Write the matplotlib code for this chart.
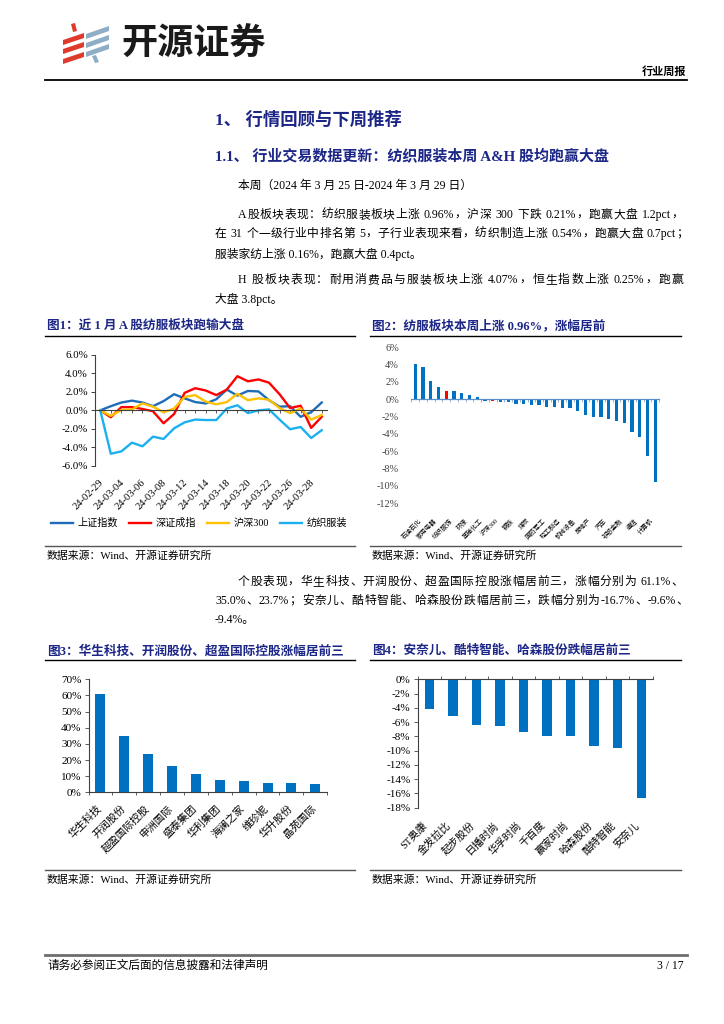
import matplotlib
matplotlib.use('Agg')
import matplotlib.pyplot as plt
from matplotlib.patches import Polygon
from matplotlib.lines import Line2D
from matplotlib.transforms import ScaledTranslation
import numpy as np

# ---------------- data ----------------
dates = ['24-02-29', '24-03-01', '24-03-04', '24-03-05', '24-03-06', '24-03-07',
         '24-03-08', '24-03-11', '24-03-12', '24-03-13', '24-03-14', '24-03-15',
         '24-03-18', '24-03-19', '24-03-20', '24-03-21', '24-03-22', '24-03-25',
         '24-03-26', '24-03-27', '24-03-28', '24-03-29']
series_names = ['上证指数', '深证成指', '沪深300', '纺织服装']
sh_index = [0, 0.45, 0.85, 1.05, 0.85, 0.45, 1.0, 1.75, 1.3, 0.9, 0.75, 1.2,
            2.25, 1.6, 2.1, 2.05, 1.1, 0.4, 0.45, -0.7, -0.2, 0.85]
sz_index = [0, -0.75, 0.35, 0.35, 0.15, -0.1, -1.4, -0.4, 1.9, 2.4, 2.15, 1.65,
            2.25, 3.7, 3.15, 3.35, 3.0, 1.75, 0.25, 0.5, -1.9, -0.7]
hs300 = [0, -0.6, 0.05, 0.1, 0.75, 0.4, -0.2, 0.2, 1.45, 1.65, 0.95, 0.65,
         0.9, 1.8, 1.1, 1.3, 1.15, 0.25, -0.3, 0.2, -1.0, -0.5]
textile = [0, -4.7, -4.45, -3.5, -3.9, -2.85, -3.1, -1.95, -1.3, -1.0, -1.05, -1.05,
           0.2, 0.55, -0.3, 0.0, 0.1, -1.0, -2.05, -1.8, -3.0, -2.15]

industry_labels = ['石油石化', '家用电器', '纺织服饰', '环保', '基础化工', '沪深300', '钢铁',
                   '煤炭', '国防军工', '轻工制造', '机械设备', '房地产', '汽车', '非银金融',
                   '通信', '计算机']
industry_values = [4.05, 3.7, 2.1, 1.4, 0.96, 0.9, 0.68, 0.55, 0.3, -0.2, -0.21, -0.35,
                   -0.35, -0.55, -0.6, -0.65, -0.7, -0.9, -0.93, -0.97, -1.0, -1.3,
                   -1.77, -2.0, -2.08, -2.3, -2.54, -2.77, -3.8, -4.4, -6.5, -9.5]
industry_highlight = ['纺织服饰', '沪深300']

up_stocks = ['华生科技', '开润股份', '超盈国际控股', '申洲国际', '盛泰集团', '华利集团',
             '海澜之家', '维珍妮', '华升股份', '晶苑国际']
up_values = [61.1, 35.0, 23.7, 16.3, 11.2, 7.6, 6.8, 5.8, 5.8, 5.0]

down_stocks = ['ST奥康', '金发拉比', '起步股份', '日播时尚', '华孚时尚', '千百度', '赢家时尚',
               '哈森股份', '酷特智能', '安奈儿']
down_values = [-4.2, -5.2, -6.4, -6.6, -7.4, -7.9, -8.0, -9.4, -9.6, -16.7]

# ---------------- setup ----------------
plt.rcParams['font.family'] = ['Liberation Serif', 'Noto Sans CJK SC']
plt.rcParams['axes.unicode_minus'] = False

W, H = 724, 1024
fig = plt.figure(figsize=(7.24, 10.24), dpi=100)
fig.patch.set_facecolor('white')
renderer = fig.canvas.get_renderer()

NAVY = '#1C2687'
BLUE = '#0070C0'


def fx(x):
    return x / W


def fy(y):
    return 1 - y / H


def ax_at(x0, y0, x1, y1):
    return fig.add_axes([fx(x0), fy(y1), (x1 - x0) / W, (y1 - y0) / H])


def txt(x, y, s, **kw):
    kw.setdefault('va', 'center')
    return fig.text(fx(x), fy(y), s, **kw)


def hline(x0, x1, y, color='black', lw=1.0):
    fig.add_artist(Line2D([fx(x0), fx(x1)], [fy(y), fy(y)], transform=fig.transFigure,
                          color=color, lw=lw))


def poly(pts, color):
    fig.add_artist(Polygon([(fx(a), fy(b)) for a, b in pts], closed=True,
                           transform=fig.transFigure, color=color, lw=0))


def measure(s, size):
    t = fig.text(0, 0, s, fontsize=size)
    w = t.get_window_extent(renderer=renderer).width
    t.remove()
    return w


def tokens_of(s):
    toks = []
    cur = ''
    for ch in s:
        if ord(ch) < 128 and ch != ' ':
            cur += ch
        else:
            if cur:
                toks.append(cur)
                cur = ''
            toks.append(ch)
    if cur:
        toks.append(cur)
    return toks


def justify(x0, x1, y, s, size, color='black'):
    toks = tokens_of(s)
    widths = []
    for t in toks:
        if t == ' ':
            widths.append(0.25 * size * 100 / 72)
        else:
            widths.append(measure(t, size))
    total = sum(widths)
    slack = (x1 - x0) - total
    gap = slack / max(len(toks) - 1, 1)
    x = x0
    for t, w in zip(toks, widths):
        if t != ' ':
            txt(x, y, t, fontsize=size, color=color, ha='left')
        x += w + gap


# ---------------- header ----------------
red = '#E03A2C'
gblue = '#8EADC6'
for y0 in [40, 49, 59]:
    poly([(63, y0), (84, y0 - 7), (84, y0 - 2), (63, y0 + 5)], red)
poly([(71, 24), (75, 23), (77, 31), (73, 32)], red)
for y0 in [34, 43, 52]:
    poly([(86, y0), (109, y0 - 8), (109, y0 - 3), (86, y0 + 5)], gblue)
poly([(92, 56), (96, 55), (99, 62), (95, 63)], gblue)
txt(121, 44, '开源证券', fontsize=26, fontweight='bold', family='Noto Sans CJK SC', color='#1a1a1a')
txt(686, 72, '行业周报', fontsize=8, fontweight='bold', ha='right')
hline(45, 687, 80, lw=1.3)

# ---------------- headings & text ----------------
txt(215, 120, '1、 行情回顾与下周推荐', fontsize=12.5, fontweight='bold', color=NAVY)
txt(215, 157, '1.1、 行业交易数据更新：纺织服装本周 A&H 股均跑赢大盘', fontsize=10.8,
    fontweight='bold', color=NAVY)
BS = 8.5
txt(238, 186, '本周（2024 年 3 月 25 日-2024 年 3 月 29 日）', fontsize=BS)
justify(238, 683, 215, 'A股板块表现：纺织服装板块上涨 0.96%，沪深 300 下跌 0.21%，跑赢大盘 1.2pct，', BS)
justify(215, 688, 234, '在 31 个一级行业中排名第 5，子行业表现来看，纺织制造上涨 0.54%，跑赢大盘 0.7pct；', BS)
txt(215, 254, '服装家纺上涨 0.16%，跑赢大盘 0.4pct。', fontsize=BS)
justify(238, 683, 280, 'H 股板块表现：耐用消费品与服装板块上涨 4.07%，恒生指数上涨 0.25%，跑赢', BS)
txt(215, 299, '大盘 3.8pct。', fontsize=BS)

justify(238, 683, 582, '个股表现，华生科技、开润股份、超盈国际控股涨幅居前三，涨幅分别为 61.1%、', BS)
justify(215, 688, 601, '35.0%、23.7%；安奈儿、酷特智能、哈森股份跌幅居前三，跌幅分别为-16.7%、-9.6%、', BS)
txt(215, 620, '-9.4%。', fontsize=BS)

# figure titles & rules
TS = 9.1
txt(47, 326, '图1：近 1 月 A 股纺服板块跑输大盘', fontsize=TS, fontweight='bold', color=NAVY)
txt(372, 326, '图2：纺服板块本周上涨 0.96%，涨幅居前', fontsize=TS, fontweight='bold', color=NAVY)
hline(45, 355, 336, lw=1.0)
hline(370, 681, 336, lw=1.0)
txt(47, 651, '图3：华生科技、开润股份、超盈国际控股涨幅居前三', fontsize=TS, fontweight='bold', color=NAVY)
txt(372, 651, '图4：安奈儿、酷特智能、哈森股份跌幅居前三', fontsize=TS, fontweight='bold', color=NAVY)
hline(45, 355, 660, lw=1.0)
hline(370, 681, 660, lw=1.0)

SRC = '数据来源：Wind、开源证券研究所'
hline(45, 355, 545.5, color='#555555', lw=1.0)
hline(370, 681, 545.5, color='#555555', lw=1.0)
txt(47, 556, SRC, fontsize=7.8)
txt(372, 556, SRC, fontsize=7.8)
hline(45, 355, 869.5, color='#555555', lw=1.0)
hline(370, 681, 869.5, color='#555555', lw=1.0)
txt(47, 880, SRC, fontsize=7.8)
txt(372, 880, SRC, fontsize=7.8)

# footer
hline(45, 687, 955, color='#6d6d6d', lw=2.0)
txt(47, 966, '请务必参阅正文后面的信息披露和法律声明', fontsize=8.4)
txt(684, 966, '3 / 17', fontsize=8.4, ha='right')


def shift_labels(labels, dx_px, dy_px=0):
    for lab in labels:
        lab.set_transform(lab.get_transform() + ScaledTranslation(dx_px / 100, -dy_px / 100,
                                                                  fig.dpi_scale_trans))


# ---------------- Fig 1 ----------------
ax1 = ax_at(95, 355, 327, 465.7)
xi = np.arange(len(dates))
colors1 = ['#1F6DB8', '#FF0000', '#FFC000', '#1CB0F0']
lines = []
for vals, c, nm in zip([sh_index, sz_index, hs300, textile], colors1, series_names):
    ln, = ax1.plot(xi, vals, color=c, lw=1.7, label=nm, solid_joinstyle='round')
    lines.append(ln)
ax1.set_xlim(-0.5, len(dates) - 0.5)
ax1.set_ylim(-6, 6)
ax1.set_yticks(np.arange(-6, 6.1, 2))
ax1.set_yticklabels(['%.1f%%' % v for v in np.arange(-6, 6.1, 2)])
ax1.tick_params(axis='y', length=3, width=0.7, labelsize=7.8, pad=2, color='#404040')
for sp in ['top', 'right']:
    ax1.spines[sp].set_visible(False)
ax1.spines['bottom'].set_position(('data', 0))
for sp in ['bottom', 'left']:
    ax1.spines[sp].set_color('#404040')
    ax1.spines[sp].set_linewidth(0.8)
ax1.set_xticks(xi)
ax1.tick_params(axis='x', length=2.5, width=0.6, labelbottom=False, color='#404040')
sec1 = ax1.secondary_xaxis('bottom')
sec1.set_xticks(xi[::2])
sec1.set_xticklabels(dates[::2], rotation=45, ha='right', va='top', fontsize=7.6)
sec1.tick_params(length=0, pad=9)
sec1.spines['bottom'].set_visible(False)
shift_labels(sec1.get_xticklabels(), 5)
ax1.patch.set_alpha(0)

fig.legend(handles=lines, labels=series_names, loc='center', bbox_to_anchor=(fx(199), fy(523)),
           ncol=4, frameon=False, fontsize=7.3, handlelength=2.2, columnspacing=1.1,
           handletextpad=0.4, borderpad=0)

# ---------------- Fig 2 ----------------
ax2 = ax_at(411.5, 347.3, 659, 503.3)
n2 = len(industry_values)
x2 = np.arange(n2)
all_names = []
for i in range(n2):
    all_names.append(industry_labels[i // 2] if i % 2 == 0 else '')
bar_colors = ['#FF0000' if nm in industry_highlight else BLUE for nm in all_names]
ax2.bar(x2, industry_values, width=0.42, color=bar_colors, edgecolor='none')
ax2.set_xlim(-0.5, n2 - 0.5)
ax2.set_ylim(-12, 6)
ax2.set_yticks(np.arange(-12, 6.1, 2))
ax2.set_yticklabels(['%d%%' % v for v in np.arange(-12, 6.1, 2)])
ax2.tick_params(axis='y', length=0, labelsize=7.4, pad=9, labelcolor='#404040')
for sp in ['top', 'right', 'left']:
    ax2.spines[sp].set_visible(False)
ax2.spines['bottom'].set_position(('data', 0))
ax2.spines['bottom'].set_color('#5B8FC9')
ax2.spines['bottom'].set_linewidth(0.9)
ax2.set_xticks(np.arange(-0.5, n2, 1.0))
ax2.tick_params(axis='x', length=2, width=0.6, labelbottom=False, color='#8FA9C9')
sec2 = ax2.secondary_xaxis('bottom')
sec2.set_xticks(x2[::2])
sec2.set_xticklabels(industry_labels, rotation=45, ha='right', va='top', fontsize=4.6)
sec2.tick_params(length=0, pad=10)
sec2.spines['bottom'].set_visible(False)
shift_labels(sec2.get_xticklabels(), 7)
ax2.patch.set_alpha(0)

# ---------------- Fig 3 ----------------
ax3 = ax_at(88.5, 679.3, 327.2, 792.3)
x3 = np.arange(len(up_values))
ax3.bar(x3, up_values, width=0.42, color=BLUE, edgecolor='none')
ax3.set_xlim(-0.5, len(up_values) - 0.5)
ax3.set_ylim(0, 70)
ax3.set_yticks(np.arange(0, 71, 10))
ax3.set_yticklabels(['%d%%' % v for v in np.arange(0, 71, 10)])
ax3.tick_params(axis='y', length=3, width=0.6, labelsize=8, pad=2, color='#404040')
for sp in ['top', 'right']:
    ax3.spines[sp].set_visible(False)
for sp in ['bottom', 'left']:
    ax3.spines[sp].set_color('#404040')
    ax3.spines[sp].set_linewidth(0.8)
ax3.set_xticks(x3)
ax3.set_xticklabels(up_stocks, rotation=45, ha='right', va='top', fontsize=7.5)
ax3.set_xticks(np.arange(-0.5, len(up_values), 1.0), minor=True)
ax3.tick_params(axis='x', which='major', length=0, pad=8)
ax3.tick_params(axis='x', which='minor', length=2.5, width=0.6, color='#404040')
shift_labels(ax3.get_xticklabels(), 3)
ax3.patch.set_alpha(0)

# ---------------- Fig 4 ----------------
ax4 = ax_at(417.5, 679.3, 653, 807.7)
x4 = np.arange(len(down_values))
ax4.bar(x4, down_values, width=0.4, color=BLUE, edgecolor='none')
ax4.set_xlim(-0.5, len(down_values) - 0.5)
ax4.set_ylim(-18, 0)
ax4.set_yticks(np.arange(-18, 0.1, 2))
ax4.set_yticklabels(['%d%%' % v for v in np.arange(-18, 0.1, 2)])
ax4.tick_params(axis='y', length=3, width=0.6, labelsize=8, pad=2, color='#404040')
for sp in ['bottom', 'right']:
    ax4.spines[sp].set_visible(False)
for sp in ['top', 'left']:
    ax4.spines[sp].set_color('#404040')
    ax4.spines[sp].set_linewidth(0.8)
ax4.set_xticks(x4)
ax4.set_xticklabels(down_stocks, rotation=45, ha='right', va='top', fontsize=7.5)
ax4.set_xticks(np.arange(-0.5, len(down_values), 1.0), minor=True)
ax4.tick_params(axis='x', which='major', length=0, pad=9)
ax4.tick_params(axis='x', which='minor', bottom=False, top=True, length=2.5, width=0.6,
                color='#404040')
ax4.patch.set_alpha(0)

fig.savefig('out.png', dpi=100, facecolor='white')
